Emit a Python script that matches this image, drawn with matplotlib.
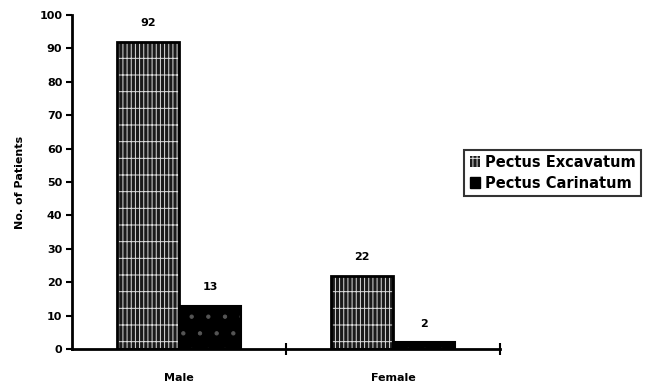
import numpy as np
import matplotlib
matplotlib.use("Agg")
import matplotlib.pyplot as plt
from matplotlib.patches import Patch

plt.rcParams['font.family'] = ['DejaVu Sans']
plt.rcParams['hatch.linewidth'] = 0.7

categories = ["Male", "Female"]
excavatum = [92, 22]
carinatum = [13, 2]
series_names = ["Pectus Excavatum", "Pectus Carinatum"]
yticks = list(range(0, 101, 10))

fig = plt.figure(figsize=(6.45, 3.86), dpi=100)
ax = fig.add_axes([0.1116, 0.0959, 0.6636, 0.8653])

x = np.arange(len(categories))
w = 0.29

# textured fill, then black outline on top
ax.bar(x - w / 2, excavatum, w, color="#1a1a1a", edgecolor="#dddddd", hatch="|||+", lw=0)
ax.bar(x - w / 2, excavatum, w, fill=False, edgecolor="black", lw=2)
ax.bar(x + w / 2, carinatum, w, color="black", edgecolor="#555555", hatch=".", lw=0)
ax.bar(x + w / 2, carinatum, w, fill=False, edgecolor="black", lw=1.5)

for xi, v in zip(x - w / 2, excavatum):
    ax.text(xi, v + 4, str(v), ha="center", va="bottom", fontsize=8, fontweight="bold")
for xi, v in zip(x + w / 2, carinatum):
    ax.text(xi, v + 4, str(v), ha="center", va="bottom", fontsize=8, fontweight="bold")

ax.set_xlim(-0.5, 1.5)
ax.set_ylim(0, 100)
ax.set_yticks(yticks)
ax.set_yticklabels([str(t) for t in yticks], fontsize=8, fontweight="bold")

ax.set_xticks([0.5, 1.5])
ax.set_xticklabels([])
ax.set_xticks(x, minor=True)
ax.set_xticklabels(categories, minor=True, fontsize=8, fontweight="bold")
ax.tick_params(axis="x", which="minor", length=0, pad=17)
ax.tick_params(axis="x", which="major", direction="inout", length=9, width=1.5)
ax.tick_params(axis="y", direction="out", length=4, width=1.5, pad=3)

for s in ["top", "right"]:
    ax.spines[s].set_visible(False)
ax.spines["left"].set_linewidth(2)
ax.spines["bottom"].set_linewidth(2)

ax.set_ylabel("No. of Patients", fontsize=8, fontweight="bold", labelpad=10)

handles = [
    Patch(facecolor="#1a1a1a", edgecolor="#dddddd", hatch="|||+", lw=0),
    Patch(facecolor="black", edgecolor="black"),
]
leg = fig.legend(handles, series_names, loc="upper left", bbox_to_anchor=(0.72, 0.612),
                 prop={"size": 10.5, "weight": "bold"}, frameon=True, fancybox=False,
                 edgecolor="black", handlelength=0.75, handleheight=0.75,
                 handletextpad=0.3, borderpad=0.35, labelspacing=0.4, borderaxespad=0)
leg.get_frame().set_linewidth(1.5)

fig.savefig("out.png", dpi=100)
